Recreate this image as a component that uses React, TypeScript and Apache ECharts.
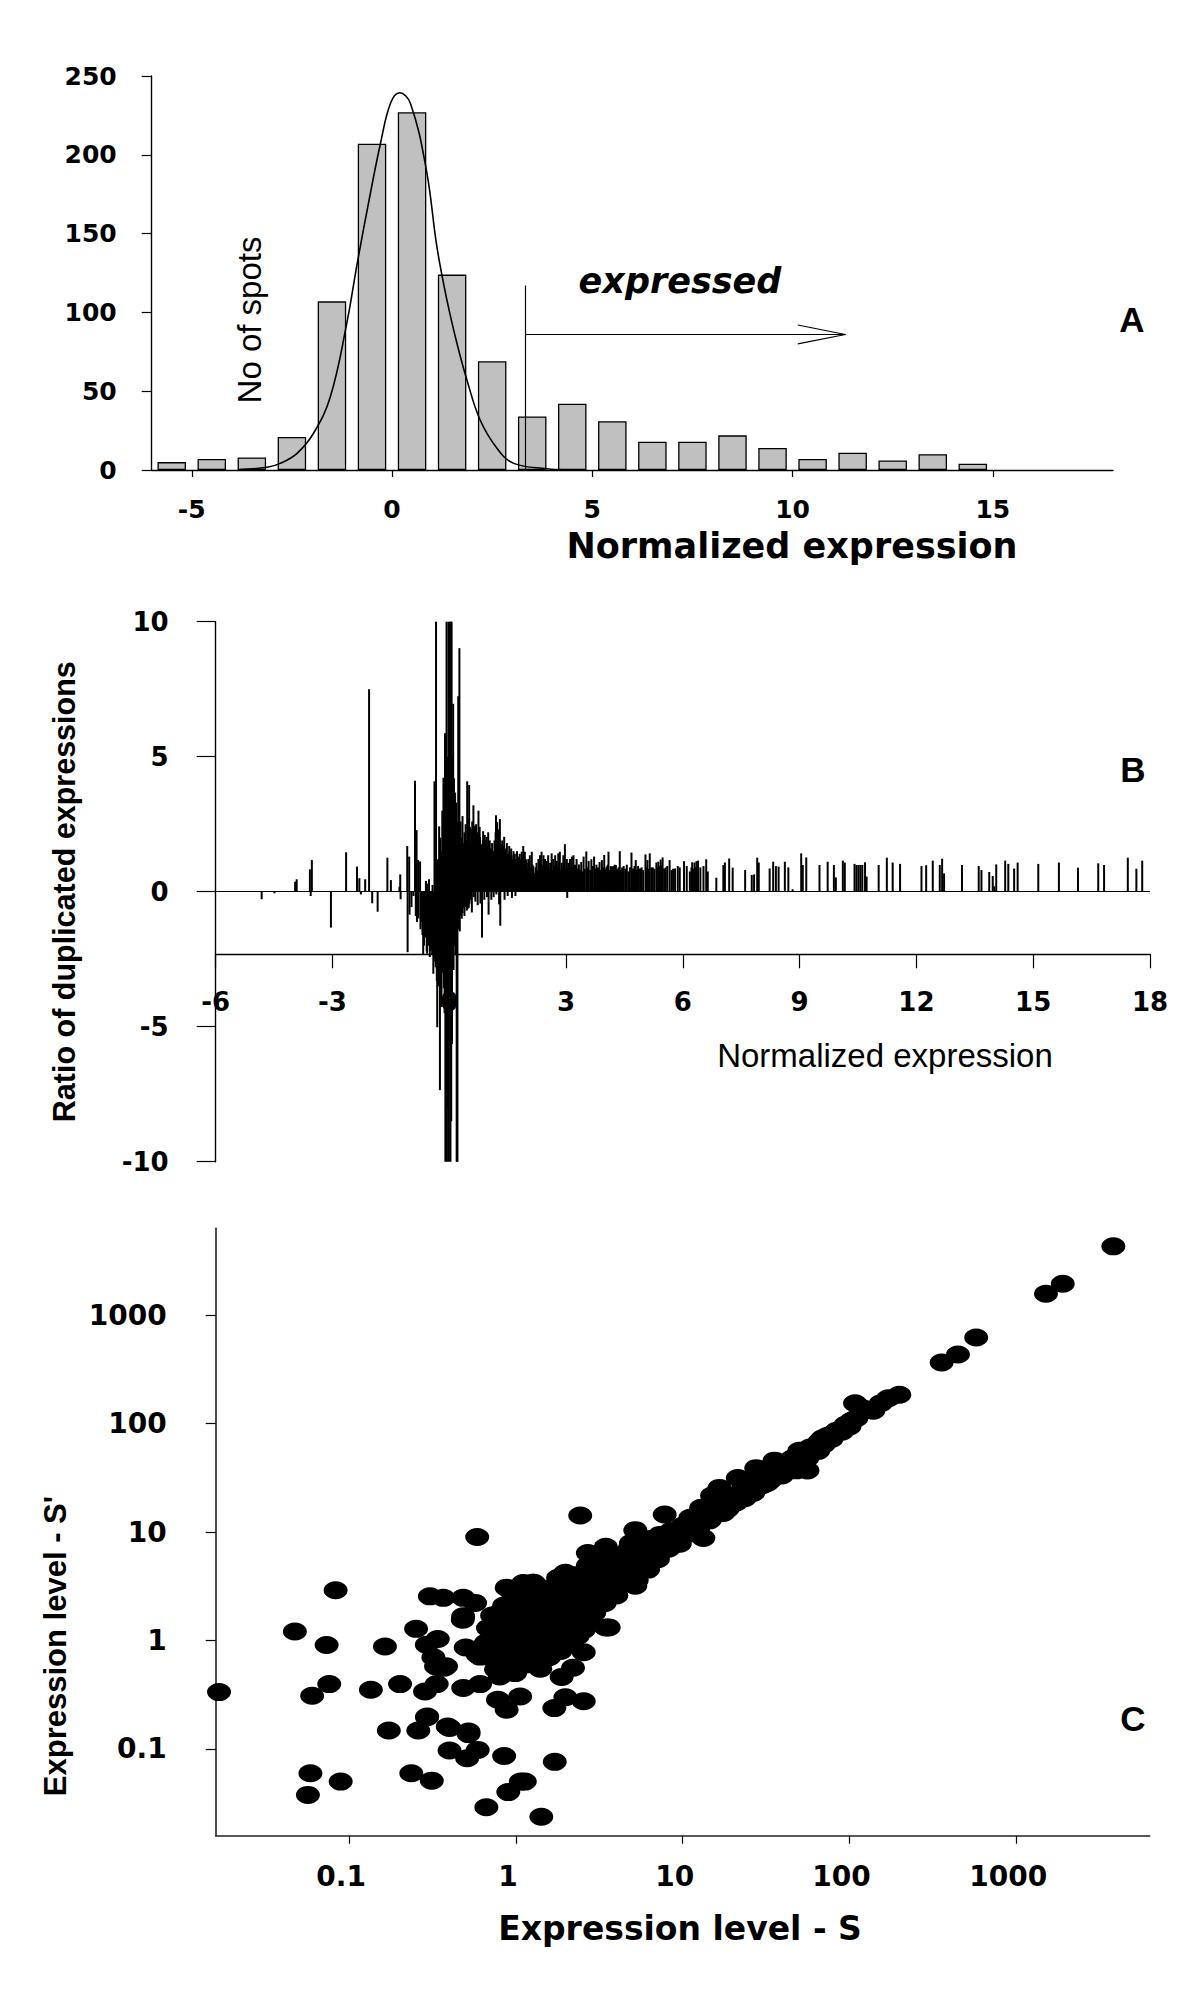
import React, { useEffect, useRef } from "react";
import * as echarts from "echarts";

// ---------- Panel A: histogram of normalized expression ----------
const histBinCenters = [-5.5, -4.5, -3.5, -2.5, -1.5, -0.5, 0.5, 1.5, 2.5, 3.5, 4.5, 5.5, 6.5, 7.5, 8.5, 9.5, 10.5, 11.5, 12.5, 13.5, 14.5];
const histCounts = [5, 7, 8, 21, 107, 207, 227, 124, 69, 34, 42, 31, 18, 18, 22, 14, 7, 11, 6, 10, 4];
const fitCurveX = [-3.79, -3.12, -2.79, -2.37, -1.96, -1.54, -1.13, -0.87, -0.54, -0.29, -0.04, 0.19, 0.46, 0.86, 1.12, 1.37, 1.62, 1.87, 2.2, 2.62, 3.04, 3.87, 4.3];
const fitCurveY = [0.3, 1.7, 4.2, 10.6, 23.3, 46.5, 93, 131, 175.6, 207, 232.6, 239.4, 232.6, 190, 141.7, 107.9, 80.4, 57.1, 31.7, 13.8, 4.2, 0.8, 0.2];
const histXTickValues = [-5, 0, 5, 10, 15];
const expressedThreshold = 3.33;
const thresholdTop = 117;
const arrowY = 86;
const arrowEnd = 11.32;
const arrowHeadBase = 10.13;
const arrowHeadHalf = 6;

// ---------- Panel B: ratio of duplicated expressions ----------
const ratioSpikes = [
  [-4.82, -0.28], [-4.49, -0.06], [-3.96, 0.37], [-3.92, 0.46], [-3.58, 0.83], [-3.56, -0.16], [-3.53, 1.17],
  [-3.04, -1.33], [-2.65, 1.46], [-2.37, 0.93], [-2.31, 0.5], [-2.27, -0.1], [-2.16, 0.46], [-2.06, 7.5],
  [-1.98, -0.43], [-1.84, -0.74], [-1.59, 1.26], [-1.5, 0.43], [-1.28, 0.19], [-1.26, 0.64], [-1.25, -0.28],
  [-1.08, 1.69], [-1.07, -2.24], [-1.03, 1.3], [-1.02, -0.85], [-0.97, -0.57], [-0.92, -0.16], [-0.88, 4.11],
  [-0.86, -0.9], [-0.84, 2.28], [-0.83, -1.12], [-0.8, 1.17], [-0.79, -0.99], [-0.75, 1.12], [-0.74, -1.39],
  [-0.71, -1.12], [-0.69, -1.6], [-0.67, -2.32], [-0.65, -2.0], [-0.63, -1.5], [-0.61, -1.7], [-0.6, 0.4],
  [-0.58, -2.21], [-0.57, -2.3], [-0.56, 0.3], [-0.54, -1.8], [-0.53, -2.0], [-0.52, 0.46], [-0.5, -2.42],
  [-0.49, -2.2], [-0.47, -1.9], [-0.46, -1.6], [-0.45, -2.15], [-0.44, -2.35], [-0.43, 0.25], [-0.42, -2.0],
  [-0.41, -3.04], [-0.39, -2.5], [-0.38, 4.09], [-0.37, -2.2], [-0.36, -2.6], [-0.35, -2.8], [-0.34, 10.5],
  [-0.33, -2.4], [-0.32, -3.3], [-0.31, -5.02], [-0.3, -2.6], [-0.29, -3.5], [-0.29, 1.2], [-0.28, -2.2],
  [-0.27, -2.3], [-0.26, 2.42], [-0.25, -2.9], [-0.24, -7.35], [-0.23, -2.5], [-0.23, 2.0], [-0.22, -3.6],
  [-0.21, -3.2], [-0.21, 1.5], [-0.2, -4.27], [-0.19, 0.94], [-0.18, -2.6], [-0.18, 3.0], [-0.17, -3.0],
  [-0.16, -2.9], [-0.15, 4.22], [-0.14, -3.58], [-0.13, -2.4], [-0.13, 2.2], [-0.12, -4.5], [-0.11, 5.87],
  [-0.1, -10.5], [-0.09, -3.1], [-0.09, 3.5], [-0.08, -6.0], [-0.07, 10.5], [-0.06, -10.5], [-0.05, -2.7],
  [-0.05, 4.0], [-0.04, -8.0], [-0.03, -3.3], [-0.03, 5.0], [-0.02, 10.5], [-0.01, -10.5], [0.0, 6.0],
  [0.01, -2.8], [0.01, 4.5], [0.02, 10.5], [0.03, -10.5], [0.04, 10.5], [0.05, -8.5], [0.06, 10.5],
  [0.07, -5.64], [0.08, 5.0], [0.09, -2.2], [0.09, 3.0], [0.1, 6.96], [0.11, -2.9], [0.12, -1.8], [0.12, 4.2],
  [0.13, 3.2], [0.14, -2.0], [0.14, 2.5], [0.15, 3.67], [0.16, -2.35], [0.17, 2.0], [0.18, -1.6], [0.18, 3.3],
  [0.19, -10.5], [0.2, 2.58], [0.21, -10.5], [0.22, -1.2], [0.22, 2.2], [0.23, 7.24], [0.24, -1.0], [0.25, -1.4],
  [0.25, 3.0], [0.26, 9.02], [0.27, -1.47], [0.28, 1.9], [0.29, -0.9], [0.29, 2.6], [0.3, 1.48], [0.31, -0.71],
  [0.32, -1.0], [0.32, 2.0], [0.33, 1.3], [0.34, -0.8], [0.34, 2.8], [0.35, -0.5], [0.36, 1.35], [0.37, -0.6],
  [0.37, 1.8], [0.38, -0.37], [0.39, -0.9], [0.39, 2.2], [0.4, 1.76], [0.41, -0.57], [0.42, -0.5], [0.42, 2.5],
  [0.43, 1.2], [0.44, -0.3], [0.45, -0.7], [0.45, 1.9], [0.46, 4.09], [0.47, -0.64], [0.48, -0.4], [0.48, 2.7],
  [0.49, 1.6], [0.5, -0.6], [0.5, 2.0], [0.51, 3.95], [0.52, -0.44], [0.53, 2.4], [0.54, 1.4], [0.55, -0.3],
  [0.56, 1.8], [0.57, 2.31], [0.58, -0.77], [0.59, 2.6], [0.6, 1.5], [0.61, 2.0], [0.62, 3.2], [0.63, -0.2],
  [0.64, 1.8], [0.65, 1.7], [0.66, 2.44], [0.67, -0.37], [0.68, 1.3], [0.69, 2.5], [0.7, 2.1], [0.71, 1.8],
  [0.72, 1.6], [0.73, -0.5], [0.74, 2.2], [0.75, 3.0], [0.76, 1.9], [0.77, 1.4], [0.78, 2.4], [0.79, 2.03],
  [0.8, -0.44], [0.81, 1.2], [0.82, 1.7], [0.83, 1.76], [0.84, -1.7], [0.85, 1.4], [0.86, 1.9], [0.87, 2.24],
  [0.88, 1.5], [0.89, 1.1], [0.9, -0.3], [0.91, 2.1], [0.92, 1.9], [0.93, 1.6], [0.94, 1.3], [0.95, 1.8],
  [0.96, 2.03], [0.97, -0.2], [0.98, 1.5], [0.99, 1.7], [1.0, 2.2], [1.01, -0.85], [1.02, 1.6], [1.03, 1.2],
  [1.04, 1.9], [1.05, 1.35], [1.06, 1.4], [1.07, 1.6], [1.08, -0.3], [1.09, 1.21], [1.1, 1.8], [1.11, 1.0],
  [1.12, 1.5], [1.13, 1.35], [1.14, -0.2], [1.15, 1.5], [1.16, 1.9], [1.17, 1.1], [1.18, 1.6], [1.19, 2.2],
  [1.2, 2.83], [1.21, -0.1], [1.22, 1.7], [1.23, 2.58], [1.24, 2.0], [1.25, 1.3], [1.26, 1.5], [1.27, 2.31],
  [1.28, -0.47], [1.29, 1.9], [1.3, 2.69], [1.31, -1.26], [1.32, 1.6], [1.33, 1.2], [1.34, 1.4], [1.35, 1.76],
  [1.36, 1.9], [1.37, 1.0], [1.38, 1.3], [1.39, 1.4], [1.4, 1.7], [1.41, 2.03], [1.42, -0.3], [1.43, 1.2],
  [1.44, 1.6], [1.45, 1.48], [1.46, 1.3], [1.47, 1.1], [1.48, 1.8], [1.49, 1.21], [1.5, -0.16], [1.51, 1.4],
  [1.52, 1.3], [1.53, 1.2], [1.54, 1.69], [1.55, 1.5], [1.56, 1.0], [1.57, 1.3], [1.58, 1.2], [1.59, 1.6],
  [1.6, 1.35], [1.61, -0.23], [1.62, 0.9], [1.63, 1.2], [1.64, 1.07], [1.65, 1.5], [1.66, 1.25], [1.67, 1.1],
  [1.68, 1.4], [1.69, 1.21], [1.7, -0.16], [1.71, 0.95], [1.72, 1.2], [1.73, 1.42], [1.74, 1.5], [1.75, 1.0],
  [1.76, 1.1], [1.77, 1.28], [1.78, 1.3], [1.79, 0.8], [1.8, 1.0], [1.81, 1.4], [1.82, 1.14], [1.83, 1.2],
  [1.84, 0.9], [1.85, 1.1], [1.86, 1.48], [1.87, 1.3], [1.88, 1.0], [1.89, 1.2], [1.9, 1.69], [1.91, 1.1],
  [1.92, 0.85], [1.93, 1.3], [1.94, 1.48], [1.95, 1.0], [1.96, 1.1], [1.97, 1.2], [1.98, 1.0], [1.99, 1.07],
  [2.01, 0.8], [2.03, 1.21], [2.05, 0.95], [2.07, 1.35], [2.09, 0.9], [2.12, 1.48], [2.14, 1.0], [2.16, 0.94],
  [2.18, 0.7], [2.2, 0.59], [2.22, 0.9], [2.24, 1.07], [2.26, 0.8], [2.29, 1.21], [2.31, 0.95], [2.33, 1.35],
  [2.35, 0.85], [2.37, 1.48], [2.4, 1.0], [2.42, 1.35], [2.44, 0.9], [2.46, 1.21], [2.48, 0.8], [2.5, 1.14],
  [2.52, 0.95], [2.54, 1.35], [2.56, 0.85], [2.59, 1.07], [2.61, 0.9], [2.63, 1.42], [2.65, 0.8], [2.67, 1.21],
  [2.7, 0.95], [2.72, 1.35], [2.74, 0.85], [2.76, 1.14], [2.78, 0.9], [2.8, 1.42], [2.82, 1.0], [2.84, 1.48],
  [2.87, 0.8], [2.89, 1.07], [2.91, 0.9], [2.93, 1.35], [2.95, 1.0], [2.97, 1.76], [3.0, 0.85], [3.02, 1.21],
  [3.03, -0.23], [3.04, 0.9], [3.06, 1.07], [3.08, 0.8], [3.1, 1.21], [3.13, 0.9], [3.15, 1.3], [3.17, 0.85],
  [3.19, 1.35], [3.21, 0.8], [3.23, 1.0], [3.25, 0.9], [3.27, 1.21], [3.3, 0.85], [3.33, 1.01], [3.36, 0.8],
  [3.39, 1.1], [3.42, 0.75], [3.45, 1.3], [3.48, 0.85], [3.52, 1.49], [3.55, 0.9], [3.58, 1.14], [3.62, 0.8],
  [3.65, 1.2], [3.68, 0.95], [3.72, 1.3], [3.75, 0.85], [3.78, 1.0], [3.82, 0.9], [3.86, 1.1], [3.89, 0.8],
  [3.92, 1.17], [3.95, 0.9], [3.98, 1.36], [4.01, 0.85], [4.04, 0.93], [4.07, 1.0], [4.09, 1.48], [4.12, 0.8],
  [4.15, 0.95], [4.18, 0.9], [4.21, 0.95], [4.25, 1.0], [4.28, 0.99], [4.31, 0.85], [4.35, 0.9], [4.38, 1.5],
  [4.41, 0.8], [4.44, 0.9], [4.48, 0.95], [4.52, 0.85], [4.56, 1.0], [4.6, 0.75], [4.64, 0.9], [4.68, 1.45],
  [4.72, 0.86], [4.76, 0.95], [4.79, 1.17], [4.82, 0.8], [4.85, 0.95], [4.9, 0.86], [4.94, 0.9], [4.98, 0.8],
  [5.04, 1.38], [5.07, 0.9], [5.09, 1.17], [5.12, 0.85], [5.15, 1.42], [5.19, 0.9], [5.23, 0.9], [5.27, 0.85],
  [5.32, 1.08], [5.35, 0.9], [5.37, 1.11], [5.4, 0.95], [5.43, 1.19], [5.46, 1.0], [5.48, 1.27], [5.52, 0.86],
  [5.56, 0.9], [5.6, 0.95], [5.66, 1.17], [5.71, 0.8], [5.75, 0.85], [5.8, 0.86], [5.87, 0.95], [5.92, 0.9],
  [6.03, 1.13], [6.1, 0.95], [6.18, 0.75], [6.22, 0.9], [6.24, 1.09], [6.27, 0.85], [6.3, 1.08], [6.33, 0.9],
  [6.35, 1.13], [6.37, 0.95], [6.39, 1.15], [6.45, 0.9], [6.53, 0.95], [6.6, 1.2], [6.64, 0.75],
  [6.86, 0.52], [7.04, 0.99], [7.08, 1.08], [7.19, 1.23], [7.28, 0.89], [7.6, 0.8], [7.77, 0.62], [7.83, 0.64],
  [7.91, 1.26], [7.95, 1.08], [8.23, 0.86], [8.32, 1.11], [8.39, 0.95], [8.46, 0.93], [8.62, 1.11], [8.71, 0.9],
  [8.82, 0.09], [9.04, 1.42], [9.08, 0.99], [9.17, 1.27], [9.51, 0.99], [9.72, 1.11], [9.88, 0.99], [9.93, 0.53],
  [10.11, 1.15], [10.16, 1.08], [10.41, 1.03], [10.46, 0.99], [10.51, 0.99], [10.56, 0.99], [10.61, 0.99],
  [10.68, 1.09], [10.72, 0.56], [11.03, 0.99], [11.24, 1.26], [11.39, 1.08], [11.58, 1.03], [12.13, 0.95],
  [12.25, 0.98], [12.42, 1.15], [12.6, 0.99], [12.66, 1.22], [12.71, 0.68], [13.17, 0.99], [13.6, 0.95],
  [13.67, 0.8], [13.87, 0.73], [13.96, 0.58], [14.0, 0.2], [14.05, 1.01], [14.28, 1.15], [14.36, 1.03],
  [14.51, 0.86], [14.6, 1.08], [15.13, 1.03], [15.66, 1.08], [16.15, 0.89], [16.67, 1.05], [16.82, 0.99],
  [17.43, 1.26], [17.65, 0.85], [17.8, 1.15],
];

// ---------- Panel C: expression level S vs S' ----------
const scatterPoints = [
  [3820, 4300], [1900, 1945], [1507, 1575], [575, 621], [447, 433], [357, 366], [199, 184], [171, 171], [154, 154],
  [139, 131], [108, 154], [110, 112], [103, 106], [120, 138], [80, 81], [69, 73], [65, 56], [50, 56], [46, 48],
  [48, 37], [35.5, 45.5], [27.6, 38.8], [21.4, 31.5], [16.6, 25.5], [15, 21.7], [20.4, 18.5], [12.9, 16.7],
  [11.1, 13.5], [7.8, 14.5], [10, 10.9], [13.3, 8.8], [5.2, 10.4], [4.9, 7.9], [3.46, 7.3], [2.7, 6.4], [2.7, 4.9],
  [2.43, 14.2], [0.586, 9.0], [5.2, 3.2], [3.6, 1.32], [2.55, 0.78], [2.2, 0.56], [1.88, 0.46], [2.55, 0.275],
  [1.98, 0.3], [1.7, 0.238], [1.06, 0.304], [0.88, 0.23], [0.78, 0.284], [1.71, 0.076], [1.13, 0.05], [1.07, 0.05],
  [0.9, 0.04], [1.42, 0.0237], [0.665, 0.029], [0.85, 0.086], [0.52, 0.137], [0.59, 0.098], [0.4, 0.0966],
  [0.4, 0.156], [0.293, 0.196], [0.26, 0.148], [0.236, 0.0597], [0.313, 0.051], [0.173, 0.148], [0.0586, 0.0597],
  [0.0566, 0.0377], [0.089, 0.05], [0.51, 0.082], [0.0166, 0.334], [0.06, 0.309], [0.076, 0.396], [0.0473, 1.21],
  [0.0733, 0.908], [0.083, 2.9], [0.135, 0.351], [0.164, 0.881], [0.202, 0.396], [0.252, 1.28], [0.285, 0.339],
  [0.335, 0.396], [0.292, 0.914], [0.305, 2.55], [0.367, 2.47], [0.483, 2.47], [0.569, 2.22], [0.332, 0.577],
  [0.381, 0.577], [0.483, 1.67], [0.483, 0.364], [0.61, 0.396], [0.294, 0.199], [0.39, 0.161], [0.52, 0.145],
  [0.92, 2.94], [0.57, 0.82], [0.61, 0.71], [0.8, 0.466], [1.107, 3.39], [0.34, 1.03], [0.32, 0.7], [0.37, 0.56],
  [0.48, 1.55], [0.5, 0.86], [0.59, 0.74], [0.76, 0.54], [0.8, 1.81], [0.88, 3.07], [1.26, 3.41], [1.79, 3.79],
  [1.98, 4.2], [1.94, 2.6], [1.32, 2.48], [1.46, 1.19], [1.19, 0.86], [0.97, 1.19], [1.62, 1.63], [1.79, 0.86],
  [2.19, 1.07], [2.69, 1.47], [2.97, 2.23], [3.46, 1.32], [3.13, 5.8], [4.03, 5.2], [4.46, 3.79], [6.04, 4.69],
  [6.68, 5.8], [7.4, 7.2], [9.06, 7.9], [8.2, 9.3], [17.5, 15], [19.4, 17.6], [26.2, 22.9], [32.1, 28.3],
  [39.3, 33.2], [56, 48], [56, 36.9], [84, 86],
  [0.66, 0.95], [0.68, 1.3], [0.7, 0.7], [0.72, 1.7], [0.75, 1.1], [0.78, 0.55], [0.8, 1.45], [0.82, 0.85],
  [0.85, 2.1], [0.87, 1.2], [0.9, 0.65], [0.92, 1.6], [0.95, 1.0], [0.97, 2.6], [0.99, 0.5],
  [1.02, 1.35], [1.05, 0.8], [1.08, 1.9], [1.1, 3.0], [1.12, 1.1], [1.15, 0.6], [1.18, 1.55], [1.2, 2.3],
  [1.22, 0.9], [1.25, 1.25], [1.28, 3.4], [1.3, 0.7], [1.32, 1.8], [1.35, 1.05], [1.38, 2.6], [1.4, 0.55],
  [1.42, 1.4], [1.45, 2.0], [1.48, 0.85], [1.5, 3.0], [1.52, 1.15], [1.55, 1.7], [1.58, 0.7], [1.6, 2.4],
  [1.65, 1.3], [1.7, 0.95], [1.72, 1.9], [1.76, 2.9], [1.8, 1.5], [1.85, 0.8], [1.9, 2.2], [1.95, 1.2],
  [2.0, 3.3], [2.05, 1.7], [2.1, 0.95], [2.15, 2.5], [2.2, 1.4], [2.25, 4.0], [2.3, 2.0], [2.35, 1.1],
  [2.4, 3.0], [2.45, 1.6], [2.5, 2.4], [2.55, 1.25], [2.6, 3.5], [2.65, 1.9], [2.7, 2.8], [2.75, 1.5],
  [2.8, 4.3], [2.85, 2.2], [2.9, 3.2], [2.95, 1.8],
  [3.0, 2.6], [3.1, 4.0], [3.2, 3.0], [3.3, 5.0], [3.4, 2.2], [3.5, 3.6], [3.6, 2.8], [3.7, 4.6], [3.8, 3.3],
  [3.9, 5.6], [4.0, 2.6], [4.1, 4.2], [4.3, 3.5], [4.4, 6.2], [4.5, 4.8], [4.7, 3.9], [4.8, 7.0], [5.0, 5.6],
  [5.1, 4.3], [5.3, 3.6], [5.4, 6.4], [5.6, 8.2], [5.8, 5.0], [6.0, 7.0], [6.2, 4.5], [6.4, 8.6], [6.6, 6.2],
  [6.9, 7.6], [7.1, 5.6], [7.3, 9.4], [7.6, 6.8], [7.9, 8.6], [8.2, 7.0], [8.5, 10.2], [8.8, 8.2], [9.2, 9.4],
  [9.6, 7.8], [10.0, 11.4],
  [10.5, 9.5], [11, 12.5], [11.5, 10.6], [12, 14], [12.5, 11.2], [13.2, 13.2], [14, 15.6], [14.5, 12.8],
  [15.5, 16.8], [16.5, 14.8], [17.5, 18.5], [18.5, 16.2], [19.5, 20.8], [21, 18.8], [22, 23], [23.5, 20.5],
  [25, 26], [26.5, 23], [28, 30], [30, 27], [31.5, 33], [33.5, 30], [36, 38], [38, 34], [40, 42], [43, 38.5],
  [45, 47], [52, 54], [55, 50], [58, 60], [62, 57], [66, 68], [70, 64], [74, 77], [78, 72], [90, 84], [95, 98],
  [100, 94],
];
const logTickValues = [0.1, 1, 10, 100, 1000];
const logMin = 0.01585;
const logMax = 6310;

const BOLD_WIDE = "DejaVu Sans";
const ARIAL = "Liberation Sans";

export default function App() {
  const ref = useRef<HTMLDivElement>(null);

  useEffect(() => {
    if (!ref.current) return;
    const chart = echarts.init(ref.current, null, { renderer: "svg" });

    const axisLineStyle = { color: "#000", width: 1.4 };
    const tickStyle = { color: "#000", width: 1.2 };
    const labelBase = { color: "#000", fontFamily: BOLD_WIDE, fontWeight: "bold" as const };
    const logFmt = (v: number) => String(+Number(v).toPrecision(3));

    const option: any = {
      animation: false,
      backgroundColor: "#fff",
      grid: [
        { left: 151.7, top: 76, width: 961.3, height: 394, outerBoundsMode: "none" },
        { left: 215.7, top: 621.7, width: 934.3, height: 540, outerBoundsMode: "none" },
        { left: 215.7, top: 953.3, width: 934.3, height: 1, outerBoundsMode: "none" },
        { left: 215.7, top: 1228.3, width: 934, height: 607.4, outerBoundsMode: "none" },
      ],
      xAxis: [
        {
          gridIndex: 0, type: "value", min: -6, max: 18,
          axisLine: { show: true, onZero: false, lineStyle: axisLineStyle },
          axisTick: { show: true, length: 7, customValues: histXTickValues, lineStyle: tickStyle },
          axisLabel: { show: true, customValues: histXTickValues, margin: 27, fontSize: 25, ...labelBase },
          splitLine: { show: false },
        },
        { gridIndex: 1, type: "value", min: -6, max: 18, show: false, splitLine: { show: false } },
        {
          gridIndex: 2, type: "value", min: -6, max: 18, interval: 3,
          axisLine: { show: true, onZero: false, lineStyle: axisLineStyle },
          axisTick: { show: true, length: 14, lineStyle: tickStyle },
          axisLabel: { show: true, margin: 35, fontSize: 26, ...labelBase },
          splitLine: { show: false },
        },
        {
          gridIndex: 3, type: "log", logBase: 10, min: logMin, max: logMax,
          axisLine: { show: true, onZero: false, lineStyle: { color: "#222", width: 1.6 } },
          axisTick: { show: true, length: 8, customValues: logTickValues, lineStyle: tickStyle },
          axisLabel: { show: true, customValues: logTickValues, margin: 27, fontSize: 28, padding: [0, 16, 0, 0], formatter: logFmt, ...labelBase },
          minorTick: { show: false },
          splitLine: { show: false },
        },
      ],
      yAxis: [
        {
          gridIndex: 0, type: "value", min: 0, max: 250, interval: 50,
          axisLine: { show: true, onZero: false, lineStyle: axisLineStyle },
          axisTick: { show: true, length: 10, lineStyle: tickStyle },
          axisLabel: { show: true, margin: 35, fontSize: 25, ...labelBase },
          splitLine: { show: false },
        },
        {
          gridIndex: 1, type: "value", min: -10, max: 10, interval: 5,
          axisLine: { show: true, onZero: false, lineStyle: axisLineStyle },
          axisTick: { show: true, length: 19, lineStyle: tickStyle },
          axisLabel: { show: true, margin: 47, fontSize: 26, ...labelBase },
          splitLine: { show: false },
        },
        { gridIndex: 2, type: "value", min: 0, max: 1, show: false, splitLine: { show: false } },
        {
          gridIndex: 3, type: "log", logBase: 10, min: logMin, max: logMax,
          axisLine: { show: true, onZero: false, lineStyle: { color: "#222", width: 1.6 } },
          axisTick: { show: true, length: 10, customValues: logTickValues, lineStyle: tickStyle },
          axisLabel: { show: true, customValues: logTickValues, margin: 49, fontSize: 28, formatter: logFmt, ...labelBase },
          minorTick: { show: false },
          splitLine: { show: false },
        },
      ],
      series: [
        {
          type: "bar", xAxisIndex: 0, yAxisIndex: 0,
          data: histBinCenters.map((x, i) => [x, histCounts[i]]),
          barWidth: 28.5,
          itemStyle: { color: "#c0c0c0", borderColor: "#000", borderWidth: 1.3 },
          emphasis: { disabled: true },
          markLine: {
            silent: true, symbol: ["none", "none"], animation: false,
            label: { show: false }, emphasis: { disabled: true },
            lineStyle: { color: "#000", width: 1.2, type: "solid" },
            data: [
              [{ coord: [expressedThreshold, 0] }, { coord: [expressedThreshold, thresholdTop] }],
              [{ coord: [expressedThreshold, arrowY] }, { coord: [arrowEnd, arrowY] }],
              [{ coord: [arrowHeadBase, arrowY + arrowHeadHalf] }, { coord: [arrowEnd, arrowY] }],
              [{ coord: [arrowHeadBase, arrowY - arrowHeadHalf] }, { coord: [arrowEnd, arrowY] }],
            ],
          },
        },
        {
          type: "line", xAxisIndex: 0, yAxisIndex: 0,
          data: fitCurveX.map((x, i) => [x, fitCurveY[i]]),
          smooth: 0.4, showSymbol: false, symbol: "none",
          lineStyle: { color: "#000", width: 1.6 },
          emphasis: { disabled: true },
        },
        {
          type: "bar", xAxisIndex: 1, yAxisIndex: 1,
          data: ratioSpikes,
          barWidth: 2,
          itemStyle: { color: "#000" },
          emphasis: { disabled: true },
          markLine: {
            silent: true, symbol: ["none", "none"], animation: false,
            label: { show: false }, emphasis: { disabled: true },
            lineStyle: { color: "#000", width: 1.2, type: "solid" },
            data: [{ yAxis: 0 }],
          },
        },
        {
          type: "scatter", xAxisIndex: 3, yAxisIndex: 3,
          data: scatterPoints,
          symbol: "circle", symbolSize: [24, 18],
          itemStyle: { color: "#000", opacity: 1 },
          emphasis: { disabled: true },
        },
      ],
      graphic: [
        { type: "text", x: 249, y: 320, rotation: Math.PI / 2,
          style: { text: "No of spots", fontFamily: ARIAL, fontSize: 33, fill: "#000", align: "center", verticalAlign: "middle" } },
        { type: "text", x: 680, y: 281,
          style: { text: "expressed", fontFamily: BOLD_WIDE, fontWeight: "bold", fontStyle: "italic", fontSize: 35, fill: "#000", align: "center", verticalAlign: "middle" } },
        { type: "text", x: 792, y: 546,
          style: { text: "Normalized expression", fontFamily: BOLD_WIDE, fontWeight: "bold", fontSize: 35, fill: "#000", align: "center", verticalAlign: "middle" } },
        { type: "text", x: 1132, y: 319,
          style: { text: "A", fontFamily: ARIAL, fontWeight: "bold", fontSize: 35, fill: "#000", align: "center", verticalAlign: "middle" } },
        { type: "text", x: 64, y: 891.7, rotation: Math.PI / 2,
          style: { text: "Ratio of duplicated expressions", fontFamily: ARIAL, fontWeight: "bold", fontSize: 30.5, fill: "#000", align: "center", verticalAlign: "middle" } },
        { type: "text", x: 885, y: 1055,
          style: { text: "Normalized expression", fontFamily: ARIAL, fontSize: 33, fill: "#000", align: "center", verticalAlign: "middle" } },
        { type: "text", x: 1133, y: 769,
          style: { text: "B", fontFamily: ARIAL, fontWeight: "bold", fontSize: 35, fill: "#000", align: "center", verticalAlign: "middle" } },
        { type: "text", x: 55, y: 1646, rotation: Math.PI / 2,
          style: { text: "Expression level - S'", fontFamily: ARIAL, fontWeight: "bold", fontSize: 31, fill: "#000", align: "center", verticalAlign: "middle" } },
        { type: "text", x: 680, y: 1928,
          style: { text: "Expression level - S", fontFamily: BOLD_WIDE, fontWeight: "bold", fontSize: 33, fill: "#000", align: "center", verticalAlign: "middle" } },
        { type: "text", x: 1133, y: 1718,
          style: { text: "C", fontFamily: ARIAL, fontWeight: "bold", fontSize: 35, fill: "#000", align: "center", verticalAlign: "middle" } },
      ],
    };

    chart.setOption(option);
    return () => chart.dispose();
  }, []);

  return (
    <div
      ref={ref}
      style={{ position: "absolute", left: 0, top: 0, width: 1200, height: 2000, background: "#fff" }}
    />
  );
}
